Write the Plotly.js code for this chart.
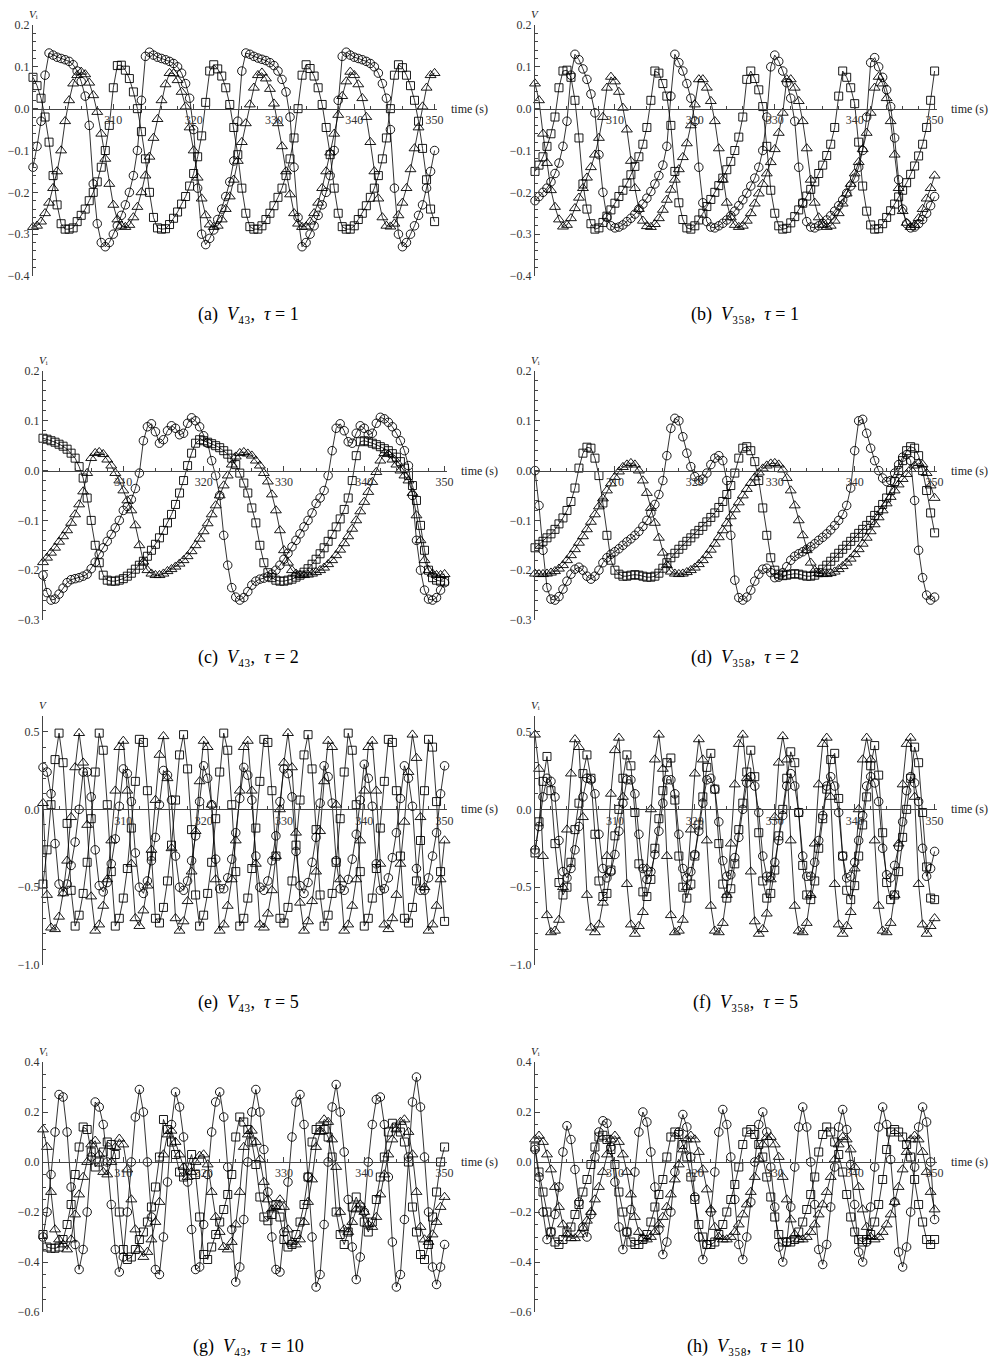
<!DOCTYPE html>
<html><head><meta charset="utf-8">
<script src="https://cdn.plot.ly/plotly-3.0.1.min.js"></script>
<style>body{margin:0;background:#fff}#chart{width:991px;height:1362px}</style>
</head><body><div id="chart"></div>
<script>
// sample times (s)
const time = [300,300.5,301,301.5,302,302.5,303,303.5,304,304.5,305,305.5,306,306.5,307,307.5,308,308.5,309,309.5,310,310.5,311,311.5,312,312.5,313,313.5,314,314.5,315,315.5,316,316.5,317,317.5,318,318.5,319,319.5,320,320.5,321,321.5,322,322.5,323,323.5,324,324.5,325,325.5,326,326.5,327,327.5,328,328.5,329,329.5,330,330.5,331,331.5,332,332.5,333,333.5,334,334.5,335,335.5,336,336.5,337,337.5,338,338.5,339,339.5,340,340.5,341,341.5,342,342.5,343,343.5,344,344.5,345,345.5,346,346.5,347,347.5,348,348.5,349,349.5,350];

// (a) V43, tau = 1
const aC = [-0.14,-0.09,-0.03,0.08,0.133,0.128,0.123,0.12,0.117,0.113, 0.105,0.09,0.065,0.03,-0.04,-0.18,-0.275,-0.32,-0.33,-0.32, -0.30,-0.28,-0.255,-0.23,-0.20,-0.16,-0.10,0.02,0.125,0.135, 0.128,0.123,0.12,0.117,0.113,0.108,0.10,0.085,0.06,0.025, -0.05,-0.19,-0.30,-0.325,-0.31,-0.29,-0.265,-0.24,-0.21,-0.175, -0.125,-0.03,0.09,0.133,0.13,0.125,0.121,0.118,0.115,0.11, 0.103,0.09,0.07,0.04,-0.02,-0.14,-0.26,-0.33,-0.32,-0.30, -0.28,-0.255,-0.23,-0.20,-0.16,-0.10,0.02,0.125,0.135,0.128, 0.123,0.12,0.117,0.113,0.108,0.10,0.085,0.06,0.025,-0.05, -0.19,-0.30,-0.33,-0.32,-0.30,-0.28,-0.255,-0.23,-0.19,-0.15, -0.10];
const aS = [0.075,0.055,0.025,-0.02,-0.08,-0.16,-0.23,-0.275,-0.288,-0.288, -0.285,-0.27,-0.255,-0.24,-0.22,-0.20,-0.175,-0.14,-0.10,-0.04, 0.05,0.103,0.104,0.092,0.072,0.04,0.0,-0.055,-0.12,-0.20, -0.26,-0.285,-0.288,-0.287,-0.277,-0.262,-0.247,-0.228,-0.21,-0.185, -0.155,-0.115,-0.065,0.015,0.09,0.105,0.095,0.078,0.05,0.01, -0.045,-0.11,-0.19,-0.25,-0.282,-0.288,-0.288,-0.28,-0.265,-0.25, -0.232,-0.212,-0.19,-0.16,-0.12,-0.07,0.0,0.08,0.105,0.096, 0.078,0.05,0.01,-0.045,-0.11,-0.19,-0.25,-0.282,-0.288,-0.288, -0.28,-0.265,-0.25,-0.232,-0.212,-0.19,-0.16,-0.12,-0.07,0.0, 0.08,0.105,0.098,0.08,0.055,0.02,-0.03,-0.095,-0.17,-0.24, -0.27];
const aT = [-0.283,-0.28,-0.27,-0.25,-0.225,-0.19,-0.15,-0.10,-0.03,0.02, 0.06,0.08,0.088,0.082,0.062,0.032,-0.008,-0.06,-0.12,-0.18, -0.23,-0.265,-0.28,-0.283,-0.278,-0.26,-0.235,-0.20,-0.16,-0.115, -0.07,-0.025,0.02,0.058,0.085,0.084,0.068,0.04,0.005,-0.045, -0.10,-0.165,-0.215,-0.255,-0.277,-0.283,-0.28,-0.265,-0.24,-0.21, -0.17,-0.125,-0.08,-0.035,0.01,0.05,0.08,0.086,0.072,0.047, 0.012,-0.035,-0.09,-0.15,-0.205,-0.25,-0.275,-0.283,-0.282,-0.27, -0.25,-0.225,-0.19,-0.15,-0.105,-0.06,-0.015,0.03,0.065,0.088, 0.08,0.058,0.025,-0.02,-0.08,-0.15,-0.215,-0.26,-0.28,-0.282, -0.275,-0.255,-0.225,-0.19,-0.145,-0.095,-0.045,0.005,0.05,0.08, 0.085];

// (b) V358, tau = 1
const bC = [-0.22,-0.21,-0.20,-0.19,-0.175,-0.155,-0.13,-0.09,-0.03,0.08, 0.13,0.117,0.095,0.07,0.035,-0.01,-0.11,-0.20,-0.26,-0.28, -0.285,-0.283,-0.278,-0.27,-0.262,-0.252,-0.24,-0.228,-0.214,-0.198, -0.18,-0.16,-0.135,-0.09,0.03,0.13,0.11,0.09,0.06,0.025, -0.03,-0.14,-0.225,-0.27,-0.283,-0.285,-0.28,-0.274,-0.266,-0.256, -0.245,-0.232,-0.218,-0.202,-0.185,-0.166,-0.14,-0.10,-0.02,0.10, 0.128,0.113,0.09,0.062,0.025,-0.03,-0.14,-0.225,-0.27,-0.283, -0.285,-0.28,-0.274,-0.266,-0.256,-0.245,-0.232,-0.218,-0.202,-0.185, -0.166,-0.14,-0.10,-0.02,0.11,0.122,0.10,0.075,0.045,0.005, -0.07,-0.17,-0.24,-0.275,-0.285,-0.283,-0.275,-0.265,-0.25,-0.232, -0.21];
const bS = [-0.15,-0.135,-0.115,-0.09,-0.06,-0.02,0.05,0.09,0.092,0.075, 0.02,-0.07,-0.18,-0.24,-0.275,-0.288,-0.285,-0.272,-0.257,-0.242, -0.226,-0.21,-0.195,-0.178,-0.158,-0.138,-0.115,-0.085,-0.045,0.02, 0.09,0.085,0.06,0.03,-0.04,-0.15,-0.225,-0.265,-0.285,-0.288, -0.28,-0.266,-0.25,-0.234,-0.217,-0.20,-0.184,-0.166,-0.146,-0.126, -0.10,-0.068,-0.02,0.07,0.09,0.072,0.045,0.005,-0.09,-0.195, -0.25,-0.28,-0.288,-0.286,-0.273,-0.258,-0.242,-0.226,-0.209,-0.193, -0.175,-0.155,-0.135,-0.112,-0.085,-0.045,0.03,0.09,0.075,0.05, 0.012,-0.08,-0.185,-0.245,-0.278,-0.288,-0.287,-0.275,-0.26,-0.244, -0.228,-0.211,-0.195,-0.177,-0.157,-0.137,-0.113,-0.085,-0.045,0.02, 0.09];
const bT = [0.06,0.02,-0.06,-0.13,-0.195,-0.235,-0.265,-0.282,-0.278,-0.262, -0.238,-0.213,-0.19,-0.165,-0.14,-0.11,-0.07,-0.02,0.05,0.076, 0.065,0.04,0.002,-0.05,-0.125,-0.19,-0.24,-0.268,-0.281,-0.283, -0.276,-0.262,-0.242,-0.218,-0.194,-0.17,-0.145,-0.116,-0.083,-0.04, 0.01,0.07,0.07,0.05,0.018,-0.03,-0.095,-0.17,-0.225,-0.26, -0.278,-0.283,-0.28,-0.268,-0.25,-0.227,-0.203,-0.18,-0.155,-0.128, -0.097,-0.058,-0.01,0.07,0.07,0.05,0.018,-0.03,-0.095,-0.17, -0.225,-0.26,-0.278,-0.283,-0.28,-0.268,-0.25,-0.227,-0.203,-0.18, -0.155,-0.128,-0.097,-0.058,-0.01,0.05,0.076,0.06,0.025,-0.03, -0.11,-0.19,-0.245,-0.273,-0.283,-0.278,-0.262,-0.24,-0.215,-0.19, -0.16];

// (c) V43, tau = 2
const cC = [-0.21,-0.245,-0.26,-0.258,-0.248,-0.236,-0.225,-0.219,-0.217,-0.215, -0.212,-0.208,-0.197,-0.184,-0.168,-0.155,-0.142,-0.128,-0.115,-0.10, -0.08,-0.072,-0.058,-0.036,-0.005,0.06,0.088,0.094,0.078,0.055, 0.062,0.08,0.09,0.085,0.072,0.075,0.095,0.106,0.10,0.088, 0.07,0.055,0.02,-0.01,-0.05,-0.13,-0.19,-0.235,-0.254,-0.26, -0.255,-0.243,-0.23,-0.222,-0.218,-0.216,-0.213,-0.208,-0.20,-0.19, -0.178,-0.166,-0.153,-0.14,-0.127,-0.113,-0.10,-0.085,-0.066,-0.055, -0.04,-0.01,0.04,0.085,0.094,0.08,0.058,0.055,0.075,0.09, 0.085,0.072,0.075,0.095,0.107,0.104,0.097,0.088,0.075,0.06, 0.04,0.01,-0.05,-0.14,-0.20,-0.24,-0.258,-0.26,-0.255,-0.24, -0.225];
const cS = [0.065,0.063,0.06,0.057,0.053,0.049,0.043,0.035,0.025,0.008, -0.015,-0.055,-0.10,-0.15,-0.185,-0.21,-0.22,-0.222,-0.222,-0.22, -0.217,-0.212,-0.206,-0.198,-0.19,-0.182,-0.172,-0.16,-0.148,-0.135, -0.12,-0.105,-0.088,-0.068,-0.045,-0.02,0.01,0.035,0.055,0.062, 0.06,0.057,0.054,0.05,0.046,0.04,0.033,0.025,0.012,-0.005, -0.025,-0.045,-0.075,-0.105,-0.15,-0.185,-0.205,-0.215,-0.22,-0.222, -0.222,-0.22,-0.218,-0.214,-0.21,-0.204,-0.197,-0.188,-0.178,-0.167, -0.155,-0.142,-0.128,-0.113,-0.097,-0.078,-0.055,-0.02,0.03,0.058, 0.06,0.058,0.055,0.052,0.048,0.044,0.04,0.034,0.027,0.018, 0.005,-0.01,-0.03,-0.06,-0.11,-0.16,-0.20,-0.215,-0.22,-0.222, -0.222];
const cT = [-0.184,-0.175,-0.165,-0.155,-0.143,-0.132,-0.12,-0.105,-0.088,-0.068, -0.042,-0.005,0.025,0.035,0.037,0.033,0.022,0.01,-0.005,-0.02, -0.04,-0.06,-0.08,-0.11,-0.15,-0.183,-0.20,-0.207,-0.21,-0.21, -0.207,-0.202,-0.198,-0.193,-0.187,-0.18,-0.172,-0.162,-0.15,-0.137, -0.122,-0.106,-0.088,-0.07,-0.05,-0.03,-0.01,0.012,0.028,0.035, 0.037,0.034,0.03,0.02,0.01,-0.005,-0.022,-0.048,-0.08,-0.12, -0.16,-0.185,-0.20,-0.207,-0.21,-0.21,-0.209,-0.207,-0.204,-0.20, -0.195,-0.188,-0.18,-0.17,-0.159,-0.146,-0.132,-0.117,-0.10,-0.082, -0.063,-0.043,-0.023,-0.003,0.02,0.035,0.033,0.022,0.012,0.0, -0.01,-0.02,-0.045,-0.09,-0.14,-0.18,-0.20,-0.207,-0.21,-0.21, -0.208];

// (d) V358, tau = 2
const dC = [0.0,-0.07,-0.16,-0.235,-0.258,-0.26,-0.253,-0.238,-0.222,-0.208, -0.198,-0.194,-0.20,-0.212,-0.218,-0.212,-0.20,-0.185,-0.175,-0.168, -0.163,-0.157,-0.15,-0.143,-0.137,-0.13,-0.122,-0.112,-0.10,-0.085, -0.068,-0.048,-0.02,0.03,0.085,0.105,0.10,0.068,0.035,0.008, -0.012,-0.02,-0.017,-0.005,0.012,0.025,0.03,0.02,-0.02,-0.13, -0.22,-0.255,-0.26,-0.254,-0.24,-0.222,-0.208,-0.198,-0.196,-0.205, -0.215,-0.214,-0.205,-0.193,-0.18,-0.172,-0.167,-0.163,-0.158,-0.153, -0.147,-0.14,-0.134,-0.127,-0.119,-0.11,-0.10,-0.088,-0.07,-0.035, 0.04,0.10,0.103,0.075,0.045,0.02,0.0,-0.015,-0.022,-0.02, -0.005,0.012,0.027,0.032,0.02,-0.06,-0.16,-0.215,-0.25,-0.26, -0.254];
const dS = [-0.155,-0.148,-0.142,-0.135,-0.127,-0.118,-0.107,-0.095,-0.08,-0.062, -0.035,0.005,0.035,0.047,0.045,0.025,-0.01,-0.065,-0.13,-0.18, -0.20,-0.208,-0.212,-0.212,-0.21,-0.209,-0.21,-0.212,-0.214,-0.214, -0.212,-0.206,-0.196,-0.185,-0.175,-0.166,-0.158,-0.15,-0.142,-0.135, -0.127,-0.12,-0.112,-0.103,-0.094,-0.085,-0.074,-0.062,-0.048,-0.03, -0.005,0.025,0.045,0.048,0.04,0.018,-0.02,-0.075,-0.13,-0.175, -0.20,-0.208,-0.211,-0.21,-0.208,-0.207,-0.208,-0.21,-0.212,-0.212, -0.21,-0.205,-0.198,-0.19,-0.182,-0.174,-0.166,-0.158,-0.15,-0.142, -0.134,-0.126,-0.118,-0.11,-0.10,-0.09,-0.08,-0.068,-0.055,-0.04, -0.022,0.0,0.02,0.04,0.048,0.045,0.03,0.0,-0.04,-0.085, -0.125];
const dT = [-0.207,-0.208,-0.208,-0.207,-0.205,-0.202,-0.197,-0.19,-0.18,-0.17, -0.158,-0.145,-0.132,-0.118,-0.103,-0.088,-0.072,-0.056,-0.04,-0.026, -0.013,-0.002,0.007,0.012,0.015,0.012,0.0,-0.02,-0.045,-0.075, -0.105,-0.135,-0.165,-0.19,-0.203,-0.207,-0.208,-0.207,-0.204,-0.20, -0.195,-0.188,-0.18,-0.17,-0.159,-0.147,-0.134,-0.12,-0.106,-0.092, -0.078,-0.064,-0.05,-0.037,-0.025,-0.014,-0.004,0.004,0.01,0.014, 0.015,0.012,0.002,-0.015,-0.04,-0.07,-0.10,-0.13,-0.16,-0.185, -0.20,-0.206,-0.208,-0.208,-0.206,-0.203,-0.198,-0.192,-0.185,-0.177, -0.168,-0.158,-0.147,-0.135,-0.122,-0.108,-0.094,-0.08,-0.066,-0.053, -0.04,-0.028,-0.017,-0.007,0.003,0.01,0.015,0.012,-0.005,-0.03, -0.055];

// (e) V43, tau = 5
const eC = [0.27,0.24,0.10,-0.22,-0.48,-0.53,-0.48,-0.36,-0.21,0.0, 0.24,0.24,0.08,-0.26,-0.49,-0.53,-0.47,-0.35,-0.19,0.02, 0.26,0.23,0.05,-0.28,-0.50,-0.54,-0.46,-0.33,-0.18,0.03, 0.25,0.22,0.06,-0.30,-0.50,-0.52,-0.46,-0.33,-0.17,0.05, 0.28,0.20,0.03,-0.32,-0.51,-0.51,-0.44,-0.32,-0.15,0.07, 0.27,0.22,0.06,-0.30,-0.50,-0.52,-0.46,-0.33,-0.17,0.05, 0.26,0.23,0.08,-0.27,-0.49,-0.54,-0.47,-0.34,-0.18,0.04, 0.28,0.21,0.04,-0.33,-0.51,-0.52,-0.45,-0.32,-0.16,0.06, 0.29,0.20,0.02,-0.35,-0.52,-0.51,-0.44,-0.31,-0.15,0.07, 0.28,0.20,0.02,-0.38,-0.52,-0.52,-0.44,-0.30,-0.15,0.10, 0.28];
const eS = [-0.48,-0.26,0.03,0.32,0.49,0.30,-0.09,-0.52,-0.75,-0.68, -0.54,-0.34,-0.06,0.24,0.49,0.38,0.03,-0.40,-0.75,-0.70, -0.57,-0.38,-0.12,0.18,0.45,0.43,0.12,-0.30,-0.70,-0.73, -0.63,-0.46,-0.23,0.06,0.35,0.48,0.26,-0.13,-0.55,-0.75, -0.68,-0.54,-0.34,-0.06,0.24,0.49,0.38,0.03,-0.40,-0.75, -0.70,-0.57,-0.38,-0.12,0.18,0.45,0.43,0.12,-0.30,-0.70, -0.73,-0.63,-0.46,-0.23,0.06,0.35,0.48,0.26,-0.13,-0.55, -0.75,-0.68,-0.54,-0.34,-0.06,0.24,0.49,0.38,0.03,-0.40, -0.75,-0.70,-0.57,-0.38,-0.12,0.18,0.45,0.43,0.12,-0.30, -0.70,-0.73,-0.63,-0.46,-0.20,0.12,0.45,0.40,0.05,-0.40, -0.72];
const eT = [0.04,-0.55,-0.76,-0.77,-0.69,-0.54,-0.33,-0.05,0.27,0.49, 0.30,-0.10,-0.56,-0.78,-0.74,-0.62,-0.45,-0.20,0.12,0.40, 0.44,0.12,-0.35,-0.70,-0.75,-0.65,-0.49,-0.26,0.06,0.35, 0.47,0.20,-0.25,-0.70,-0.78,-0.72,-0.59,-0.40,-0.14,0.18, 0.44,0.40,0.03,-0.45,-0.78,-0.74,-0.62,-0.45,-0.20,0.12, 0.40,0.44,0.12,-0.35,-0.74,-0.76,-0.67,-0.52,-0.30,0.0, 0.30,0.49,0.27,-0.15,-0.60,-0.78,-0.72,-0.59,-0.40,-0.14, 0.18,0.44,0.40,0.03,-0.45,-0.78,-0.74,-0.62,-0.45,-0.20, 0.12,0.40,0.44,0.12,-0.35,-0.74,-0.77,-0.70,-0.55,-0.35, -0.08,0.24,0.48,0.33,-0.05,-0.50,-0.78,-0.74,-0.62,-0.45, -0.20];

// (f) V358, tau = 5
const fC = [-0.26,-0.11,0.08,0.20,0.18,0.08,-0.20,-0.40,-0.44,-0.38, -0.26,-0.11,0.08,0.20,0.19,0.10,-0.16,-0.38,-0.44,-0.40, -0.29,-0.14,0.04,0.19,0.19,0.10,-0.16,-0.38,-0.45,-0.40, -0.29,-0.14,0.04,0.19,0.19,0.10,-0.16,-0.38,-0.44,-0.40, -0.29,-0.14,0.04,0.19,0.20,0.13,-0.08,-0.33,-0.43,-0.42, -0.31,-0.18,0.0,0.17,0.21,0.15,-0.02,-0.30,-0.43,-0.43, -0.34,-0.20,-0.04,0.15,0.23,0.15,-0.02,-0.30,-0.43,-0.43, -0.34,-0.20,-0.04,0.15,0.21,0.15,-0.02,-0.30,-0.44,-0.43, -0.34,-0.20,-0.04,0.15,0.21,0.17,0.05,-0.25,-0.42,-0.44, -0.36,-0.24,-0.08,0.12,0.21,0.17,0.05,-0.25,-0.43,-0.38, -0.27];
const fS = [-0.28,-0.08,0.18,0.34,0.12,-0.22,-0.47,-0.55,-0.50,-0.34, -0.13,0.04,0.23,0.35,0.20,-0.16,-0.46,-0.56,-0.54,-0.39, -0.17,0.0,0.20,0.35,0.28,-0.02,-0.35,-0.53,-0.56,-0.45, -0.25,-0.06,0.12,0.30,0.33,0.06,-0.30,-0.50,-0.57,-0.48, -0.30,-0.10,0.08,0.27,0.36,0.13,-0.22,-0.48,-0.57,-0.51, -0.35,-0.13,0.04,0.24,0.38,0.21,-0.15,-0.46,-0.57,-0.54, -0.39,-0.17,0.0,0.20,0.37,0.30,-0.02,-0.36,-0.55,-0.58, -0.46,-0.25,-0.06,0.13,0.32,0.36,0.07,-0.30,-0.52,-0.58, -0.49,-0.30,-0.10,0.08,0.28,0.41,0.22,-0.15,-0.47,-0.58, -0.55,-0.40,-0.18,0.0,0.20,0.40,0.30,-0.02,-0.37,-0.57, -0.58];
const fT = [0.48,0.26,-0.30,-0.68,-0.79,-0.78,-0.71,-0.50,-0.13,0.23, 0.45,0.40,-0.05,-0.55,-0.76,-0.79,-0.74,-0.60,-0.30,0.10, 0.38,0.46,0.08,-0.48,-0.74,-0.80,-0.75,-0.66,-0.38,0.0, 0.32,0.48,0.26,-0.30,-0.68,-0.79,-0.78,-0.71,-0.50,-0.13, 0.23,0.45,0.32,-0.20,-0.62,-0.78,-0.79,-0.73,-0.55,-0.22, 0.16,0.42,0.48,0.20,-0.40,-0.72,-0.80,-0.77,-0.67,-0.45, -0.05,0.30,0.47,0.32,-0.20,-0.62,-0.78,-0.79,-0.73,-0.55, -0.22,0.16,0.42,0.46,0.08,-0.48,-0.74,-0.80,-0.75,-0.66, -0.38,0.0,0.32,0.46,0.32,-0.20,-0.62,-0.78,-0.79,-0.73, -0.55,-0.22,0.16,0.42,0.46,0.08,-0.48,-0.74,-0.80,-0.75, -0.70];

// (g) V43, tau = 10
const gC = [-0.30,-0.20,-0.05,0.12,0.27,0.26,0.12,-0.10,-0.33,-0.43, -0.35,-0.20,0.02,0.24,0.22,0.15,0.0,-0.17,-0.35,-0.44, -0.38,-0.20,0.0,0.18,0.29,0.20,0.0,-0.22,-0.43,-0.45, -0.30,-0.08,0.15,0.28,0.22,0.10,-0.08,-0.27,-0.43,-0.42, -0.25,-0.05,0.12,0.24,0.28,0.18,-0.02,-0.27,-0.48,-0.42, -0.23,0.0,0.20,0.29,0.20,0.05,-0.12,-0.30,-0.43,-0.44, -0.28,-0.08,0.10,0.24,0.27,0.15,-0.06,-0.30,-0.50,-0.45, -0.25,0.0,0.22,0.31,0.20,0.04,-0.15,-0.34,-0.47,-0.38, -0.20,0.0,0.15,0.25,0.26,0.15,-0.06,-0.32,-0.50,-0.45, -0.23,0.02,0.24,0.34,0.22,0.02,-0.20,-0.42,-0.49,-0.42, -0.33];
const gS = [-0.29,-0.34,-0.345,-0.345,-0.34,-0.31,-0.25,-0.17,-0.05,0.06, 0.14,0.13,0.04,-0.02,0.0,0.04,0.08,0.07,0.03,-0.20, -0.35,-0.39,-0.38,-0.35,-0.31,-0.28,-0.24,-0.18,-0.10,0.02, 0.17,0.13,0.08,0.03,-0.04,-0.06,-0.02,0.03,-0.05,-0.22, -0.37,-0.39,-0.34,-0.29,-0.24,-0.19,-0.13,-0.05,0.10,0.18, 0.16,0.13,0.08,-0.01,-0.14,-0.22,-0.235,-0.21,-0.17,-0.22, -0.31,-0.34,-0.33,-0.29,-0.24,-0.17,-0.06,0.08,0.13,0.14, 0.13,0.10,0.02,-0.20,-0.29,-0.33,-0.28,-0.18,-0.14,-0.18, -0.24,-0.28,-0.24,-0.15,-0.06,0.02,0.12,0.155,0.14,0.12, 0.08,0.0,-0.18,-0.28,-0.37,-0.39,-0.33,-0.22,-0.12,0.0, 0.06];
const gT = [0.13,0.06,-0.12,-0.27,-0.31,-0.33,-0.35,-0.31,-0.21,-0.13, -0.06,0.0,0.07,0.085,0.03,-0.04,-0.05,0.0,0.06,0.093, 0.07,-0.03,-0.15,-0.27,-0.35,-0.38,-0.36,-0.31,-0.24,-0.16, 0.03,0.11,0.125,0.08,0.03,-0.02,-0.06,-0.04,0.0,0.025, 0.03,-0.01,-0.12,-0.22,-0.28,-0.34,-0.35,-0.32,-0.25,-0.12, 0.06,0.11,0.125,0.08,0.01,-0.08,-0.15,-0.19,-0.18,-0.15, -0.18,-0.27,-0.32,-0.33,-0.31,-0.24,-0.16,-0.07,0.06,0.12, 0.17,0.16,0.09,-0.02,-0.20,-0.27,-0.28,-0.24,-0.19,-0.17, -0.20,-0.25,-0.26,-0.22,-0.13,-0.05,0.03,0.09,0.13,0.16, 0.17,0.12,0.03,-0.12,-0.26,-0.31,-0.32,-0.29,-0.24,-0.18, -0.14];

// (h) V358, tau = 10
const hC = [0.05,-0.06,-0.20,-0.31,-0.28,-0.21,-0.10,0.04,0.145,0.09, -0.03,-0.16,-0.26,-0.30,-0.21,0.02,0.12,0.165,0.155,0.06, -0.08,-0.26,-0.35,-0.28,-0.19,-0.04,0.12,0.20,0.16,0.04, -0.10,-0.27,-0.37,-0.32,-0.20,-0.04,0.12,0.19,0.14,0.02, -0.14,-0.30,-0.39,-0.33,-0.20,-0.04,0.12,0.21,0.15,0.02, -0.15,-0.33,-0.39,-0.30,-0.16,0.0,0.15,0.20,0.12,-0.02, -0.18,-0.34,-0.40,-0.32,-0.18,-0.02,0.14,0.22,0.14,0.0, -0.17,-0.35,-0.41,-0.33,-0.18,-0.02,0.14,0.21,0.13,-0.01, -0.17,-0.36,-0.40,-0.32,-0.18,-0.02,0.14,0.22,0.15,0.01, -0.16,-0.36,-0.42,-0.34,-0.20,-0.02,0.14,0.22,0.16,0.0, -0.23];
const hS = [0.06,-0.04,-0.12,-0.20,-0.28,-0.32,-0.33,-0.31,-0.28,-0.26, -0.21,-0.17,-0.12,-0.07,-0.01,0.06,0.10,0.107,0.09,0.05, -0.01,-0.12,-0.20,-0.28,-0.32,-0.33,-0.33,-0.31,-0.29,-0.24, -0.18,-0.13,-0.07,0.02,0.10,0.12,0.11,0.07,0.02,-0.06, -0.15,-0.25,-0.30,-0.33,-0.33,-0.32,-0.29,-0.25,-0.20,-0.15, -0.09,-0.02,0.07,0.12,0.13,0.11,0.07,0.02,-0.06,-0.14, -0.22,-0.29,-0.32,-0.32,-0.32,-0.31,-0.28,-0.24,-0.19,-0.13, -0.06,0.04,0.11,0.14,0.12,0.08,0.03,-0.04,-0.13,-0.22, -0.28,-0.31,-0.32,-0.31,-0.29,-0.24,-0.17,-0.07,0.05,0.12, 0.13,0.12,0.10,0.07,0.02,-0.07,-0.17,-0.24,-0.31,-0.33, -0.31];
const hT = [0.09,0.105,0.08,0.03,-0.03,-0.10,-0.18,-0.25,-0.29,-0.305, -0.305,-0.29,-0.265,-0.235,-0.20,-0.15,-0.10,-0.04,0.03,0.09, 0.105,0.08,0.03,-0.04,-0.13,-0.22,-0.28,-0.305,-0.31,-0.30, -0.28,-0.25,-0.22,-0.18,-0.13,-0.07,-0.01,0.05,0.09,0.105, 0.09,0.04,-0.03,-0.11,-0.19,-0.26,-0.30,-0.31,-0.31,-0.30, -0.28,-0.25,-0.21,-0.17,-0.12,-0.06,0.01,0.07,0.10,0.10, 0.07,0.02,-0.06,-0.15,-0.23,-0.29,-0.31,-0.31,-0.30,-0.28, -0.25,-0.21,-0.17,-0.12,-0.06,0.01,0.07,0.10,0.09,0.05, -0.02,-0.10,-0.19,-0.26,-0.30,-0.31,-0.30,-0.28,-0.25,-0.21, -0.16,-0.10,-0.03,0.04,0.09,0.105,0.09,0.04,-0.04,-0.12, -0.19];

// x tick labels
const xTicks = [310,320,330,340,350];

const W = 991, H = 1362;
const FONT = '"Liberation Serif", "Times New Roman", serif';
const SP = '\u00A0';
function caption(letter, sub, tau){
  return '(' + letter + ')' + SP + ' <i>V</i>' + sub + ',' + SP + ' <i>τ</i>' + SP + '=' + SP + tau;
}
const VI = '<i>V</i>ᵢ', V = '<i>V</i>';
const panels = [
  {c:aC,s:aS,t:aT, yr:[-0.4,0.2], dt:0.1, mn:0.02, xp:[33,437],  yp:[25,276],   lab:VI, cap:caption('a','₄₃','1'),  cx:248, cy:314},
  {c:bC,s:bS,t:bT, yr:[-0.4,0.2], dt:0.1, mn:0.02, xp:[535,937], yp:[25,276],   lab:V,  cap:caption('b','₃₅₈','1'), cx:745, cy:314},
  {c:cC,s:cS,t:cT, yr:[-0.3,0.2], dt:0.1, mn:0.02, xp:[43,447],  yp:[371,620],  lab:VI, cap:caption('c','₄₃','2'),  cx:248, cy:657},
  {c:dC,s:dS,t:dT, yr:[-0.3,0.2], dt:0.1, mn:0.02, xp:[535,937], yp:[371,620],  lab:VI, cap:caption('d','₃₅₈','2'), cx:745, cy:657},
  {c:eC,s:eS,t:eT, yr:[-1.0,0.6], dt:0.5, mn:0.1,  xp:[43,447],  yp:[716,965],  lab:V,  cap:caption('e','₄₃','5'),  cx:248, cy:1002},
  {c:fC,s:fS,t:fT, yr:[-1.0,0.6], dt:0.5, mn:0.1,  xp:[535,937], yp:[716,965],  lab:VI, cap:caption('f','₃₅₈','5'), cx:745, cy:1002},
  {c:gC,s:gS,t:gT, yr:[-0.6,0.4], dt:0.2, mn:0.05, xp:[43,447],  yp:[1062,1312],lab:VI, cap:caption('g','₄₃','10'), cx:248, cy:1346},
  {c:hC,s:hS,t:hT, yr:[-0.6,0.4], dt:0.2, mn:0.05, xp:[535,937], yp:[1062,1312],lab:VI, cap:caption('h','₃₅₈','10'),cx:745, cy:1346}
];

const traces = [], annotations = [];
const layout = {width:W, height:H, margin:{l:0,r:0,t:0,b:0}, paper_bgcolor:'#fff', plot_bgcolor:'#fff', showlegend:false, font:{family:FONT, color:'#222', size:12}};

panels.forEach((p,i)=>{
  const n = i+1, xa = 'x'+n, ya = 'y'+n;
  const xd = [p.xp[0]/W, p.xp[1]/W];
  const yd = [1 - p.yp[1]/H, 1 - p.yp[0]/H];
  const pos = yd[0] + (0 - p.yr[0])/(p.yr[1]-p.yr[0])*(yd[1]-yd[0]);
  layout['xaxis'+n] = {domain:xd, range:[300,350.3], anchor:'free', position:pos, side:'bottom',
    showline:true, linecolor:'#444', linewidth:1, showgrid:false, zeroline:false,
    tickmode:'array', tickvals:xTicks, ticks:'inside', ticklen:5, tickcolor:'#444', tickwidth:1,
    tickfont:{family:FONT, size:12, color:'#333'},
    minor:{tickmode:'linear', tick0:300, dtick:2, ticks:'inside', ticklen:3, tickcolor:'#444', showgrid:false}};
  layout['yaxis'+n] = {domain:yd, range:p.yr, anchor:xa, side:'left',
    showline:true, linecolor:'#444', linewidth:1, showgrid:false, zeroline:false,
    tickmode:'linear', tick0:0, dtick:p.dt, tickformat:'.1f', ticks:'inside', ticklen:5, tickcolor:'#444',
    tickfont:{family:FONT, size:12, color:'#333'},
    minor:{tickmode:'linear', tick0:0, dtick:p.mn, ticks:'inside', ticklen:3, tickcolor:'#444', showgrid:false}};
  const series = [[p.c,'circle-open',8.5],[p.s,'square-open',8],[p.t,'triangle-up-open',9.5]];
  series.forEach(([vals,sym,sz])=>{
    traces.push({x:time, y:vals, xaxis:xa, yaxis:ya, type:'scatter', mode:'lines+markers', cliponaxis:false,
      line:{color:'#000', width:0.8}, marker:{symbol:sym, size:sz, color:'#000', line:{width:0.9, color:'#000'}}, hoverinfo:'skip'});
  });
  annotations.push({xref:'paper', yref:'paper', x:xd[1]+12/W, y:pos, xanchor:'left', yanchor:'middle', showarrow:false,
    text:'time (s)', font:{family:FONT, size:12, color:'#222'}});
  annotations.push({xref:'paper', yref:'paper', x:xd[0], y:yd[1], xanchor:'center', yanchor:'bottom', yshift:3, showarrow:false,
    text:p.lab, font:{family:FONT, size:11, color:'#222'}});
  annotations.push({xref:'paper', yref:'paper', x:p.cx/W, y:1 - p.cy/H, xanchor:'center', yanchor:'middle', showarrow:false,
    text:p.cap, font:{family:FONT, size:18, color:'#000'}});
});
layout.annotations = annotations;
Plotly.newPlot('chart', traces, layout, {staticPlot:true, displayModeBar:false});
</script>
</body></html>
